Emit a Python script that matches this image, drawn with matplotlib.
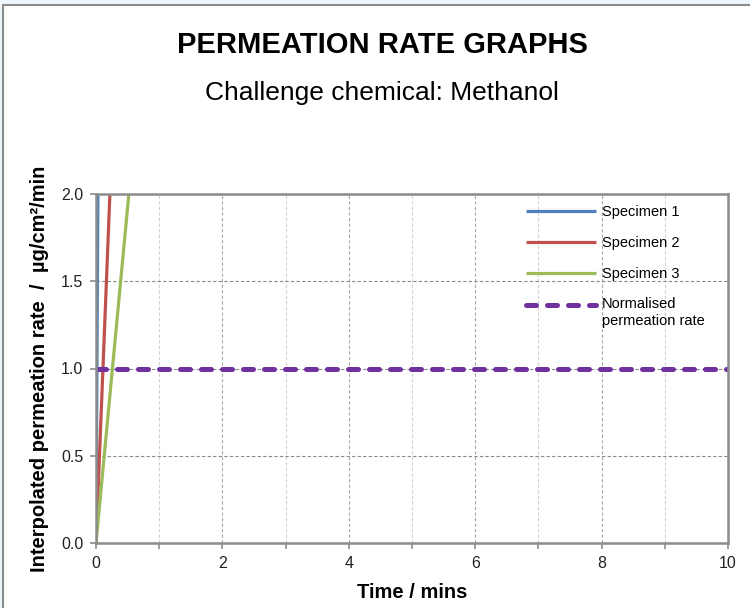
import numpy as np
import matplotlib as mpl
mpl.use('Agg')
import matplotlib.pyplot as plt
from matplotlib.patches import Rectangle

plt.rcParams['font.family'] = ['Liberation Sans', 'DejaVu Sans']

title = 'PERMEATION RATE GRAPHS'
subtitle = 'Challenge chemical: Methanol'
xlabel = 'Time / mins'
ylabel = 'Interpolated permeation rate  /  µg/cm²/min'

# specimen curves (time in mins, rate in ug/cm2/min)
t1 = [0.0, 0.03]
r1 = [0.0, 2.0]
t2 = [0.0, 0.22]
r2 = [0.0, 2.0]
t3 = [0.0, 0.52]
r3 = [0.0, 2.0]
norm_t = [0, 10]
norm_r = [1.0, 1.0]

labels = ['Specimen 1', 'Specimen 2', 'Specimen 3', 'Normalised\npermeation rate']
colors = ['#4F81BD', '#C0504D', '#9BBB59', '#7030A0']

fig = plt.figure(figsize=(7.5, 6.08), dpi=100)
fig.patch.set_facecolor('#eef7fc')
# white chart panel with grey frame
fig.patches.append(Rectangle((3/750, -0.05), 1.1, 1 - 5/608 + 0.05, transform=fig.transFigure,
                             facecolor='white', edgecolor='#8c8c8c', linewidth=1.5, zorder=-5))

ax = fig.add_axes([96/750, 1 - 543/608, (728 - 96)/750, (543 - 194)/608])
ax.set_facecolor('white')

ax.plot(t1, r1, color=colors[0], lw=2.3, label=labels[0], solid_capstyle='butt')
ax.plot(t2, r2, color=colors[1], lw=2.3, label=labels[1], solid_capstyle='butt')
ax.plot(t3, r3, color=colors[2], lw=2.3, label=labels[2], solid_capstyle='butt')
ax.plot(norm_t, norm_r, color=colors[3], lw=3.6, ls=(0, (2.0, 2.2)), label=labels[3],
        dash_capstyle='round')

ax.set_xlim(0, 10)
ax.set_ylim(0, 2.0)
ax.set_xticks(np.arange(0, 11, 2))
ax.set_xticks(np.arange(1, 10, 2), minor=True)
ax.set_yticks(np.arange(0, 2.01, 0.5))
ax.set_yticklabels(['%.1f' % v for v in np.arange(0, 2.01, 0.5)])

ax.grid(True, which='major', axis='y', color='#8a8a8a', ls=(0, (3, 2)), lw=0.8)
ax.grid(True, which='major', axis='x', color='#a8a8a8', ls=(0, (3, 2)), lw=0.8)
ax.grid(True, which='minor', axis='x', color='#d0d0d0', ls=(0, (3, 2)), lw=0.8)
ax.set_axisbelow(True)

for s in ax.spines.values():
    s.set_color('#8c8c8c')
    s.set_linewidth(1.8)
ax.tick_params(which='both', direction='out', length=4, width=1.2, color='#8c8c8c',
               labelsize=11.5, labelcolor='#222222', pad=5)

ax.set_xlabel(xlabel, fontsize=14.5, fontweight='bold', labelpad=9)
ax.set_ylabel(ylabel, fontsize=14.5, fontweight='bold', labelpad=9)

fig.text(382/750, 1 - 45/608, title, ha='center', va='center', fontsize=21, fontweight='bold')
fig.text(382/750, 1 - 93/608, subtitle, ha='center', va='center', fontsize=19)

leg = ax.legend(loc='upper left', frameon=False, fontsize=10.5, handlelength=4.8,
                handletextpad=0.4, labelspacing=1.15, borderaxespad=0,
                bbox_to_anchor=(0.671, 0.985))
# put the dashed handle level with the first line of its two-line label
h = leg.get_lines()[3]
h.set_ydata(np.asarray(h.get_ydata()) + 6)

fig.savefig('out.png', dpi=100)
